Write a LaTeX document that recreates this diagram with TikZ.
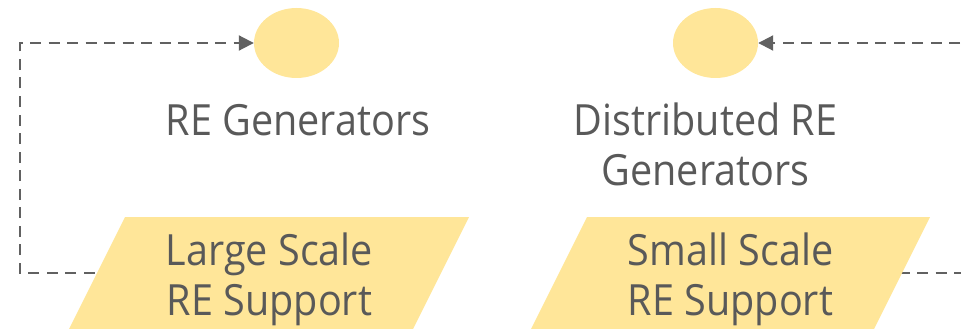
\documentclass[tikz,border=0pt]{standalone}
\usepackage{fontspec}
\setmainfont{Open Sans}[FakeStretch=0.92]
\usetikzlibrary{arrows.meta,shapes.geometric}
\definecolor{shapefill}{HTML}{FFE699}
\definecolor{txtgrey}{HTML}{595959}
\definecolor{linegrey}{HTML}{616161}
\tikzset{
  blob/.style={ellipse,fill=shapefill,minimum width=85pt,minimum height=70pt,inner sep=0pt},
  lbl/.style={text=txtgrey,font=\fontsize{43}{50}\selectfont,align=center,anchor=base,inner sep=0pt},
  conn/.style={draw=linegrey,line width=2pt,dash pattern=on 11pt off 7.5pt,-{Triangle[length=15pt,width=15pt]}},
  para/.style={fill=shapefill}
}
\begin{document}
\begin{tikzpicture}[x=1pt,y=-1pt]
\useasboundingbox (0,0) rectangle (961,329);
\clip (0,0) rectangle (961,329);
% nodes
\node[blob] (eL) at (296.5,43) {};
\node[blob] (eR) at (715.5,43) {};
\coordinate (pL) at (150,273);
\coordinate (tL) at (20,273);
\coordinate (pR) at (880,273);
\coordinate (tR) at (990,273);
% connectors
\draw[conn] (pL) -- (tL) |- (eL.west);
\draw[conn] (pR) -- (tR) |- (eR.east);
% parallelograms
\fill[para] (125,217) -- (469,217) -- (367.5,420) -- (23.5,420) -- cycle;
\fill[para] (587,217) -- (930,217) -- (828.5,420) -- (485.5,420) -- cycle;
% labels
\node[lbl] (gL) at (298,135) {RE Generators};
\node[lbl] (gR) at (705.5,185) {Distributed RE\\Generators};
\node[lbl] (sL) at (269.5,315) {Large Scale\\RE Support};
\node[lbl] (sR) at (730.5,315) {Small Scale\\RE Support};
\end{tikzpicture}
\end{document}
